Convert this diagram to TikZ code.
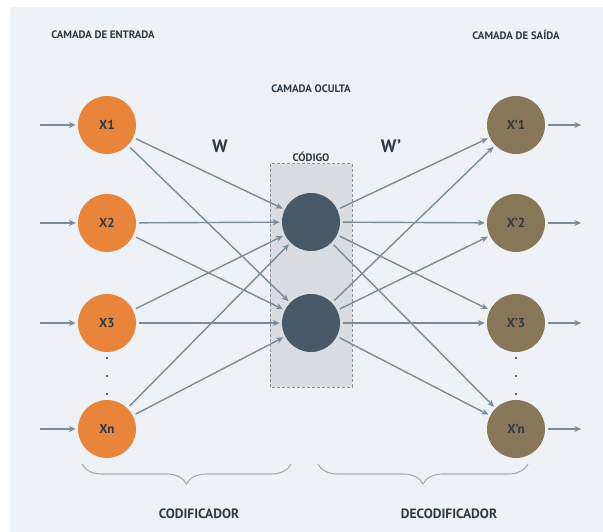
\documentclass[tikz,border=0pt]{standalone}
\usepackage{fontspec}
\setmainfont{PT Sans}
\usetikzlibrary{arrows.meta,decorations.pathreplacing}
\definecolor{panel}{HTML}{EEF2F6}
\definecolor{ink}{HTML}{2E3A46}
\definecolor{edge}{HTML}{7B8B98}
\definecolor{inorange}{HTML}{E8853A}
\definecolor{outbrown}{HTML}{877658}
\definecolor{codedark}{HTML}{4A5968}
\definecolor{codefill}{HTML}{D9DDE1}
\definecolor{boxline}{HTML}{8A949E}
\definecolor{bracecol}{HTML}{A3ADB7}
\tikzset{
  unit/.style={circle, minimum size=58pt, inner sep=0pt, text=ink,
    font=\fontsize{13}{13}\selectfont\bfseries},
  inunit/.style={unit, fill=inorange},
  outunit/.style={unit, fill=outbrown},
  codeunit/.style={unit, fill=codedark},
  link/.style={draw=edge, line width=1.4pt,
    -{Stealth[length=7pt,width=6pt]}, shorten <=3pt, shorten >=2pt},
  caption/.style={text=ink, font=\fontsize{10.8}{10.8}\selectfont\bfseries},
  weight/.style={text=ink, font=\fontsize{18}{18}\selectfont\bfseries},
  part/.style={text=ink, font=\fontsize{13.5}{13.5}\selectfont\bfseries},
  bracket/.style={draw=bracecol, line width=1.1pt,
    decorate, decoration={brace, mirror, amplitude=20pt}},
  dot/.style={circle, fill=ink, inner sep=0pt, minimum size=2.2pt}
}
\begin{document}
\begin{tikzpicture}[x=1pt, y=-1pt]
  % page and panel
  \useasboundingbox (0,0) rectangle (603,532);
  \fill[white] (0,0) rectangle (603,532);
  \fill[panel] (10,7) rectangle (603,532);

  % code region
  \draw[boxline, fill=codefill, line width=1pt, dash pattern=on 3pt off 2pt]
    (270,164) rectangle (352,387);

  % layer captions
  \node[caption] (lin) at (103,35) {CAMADA DE ENTRADA};
  \node[caption] (lout) at (516,35) {CAMADA DE SAÍDA};
  \node[caption] (lhid) at (311,89) {CAMADA OCULTA};
  \node[caption] (lcode) at (311,157) {CÓDIGO};
  \node[weight] (w1) at (220,146) {W};
  \node[weight] (w2) at (391,146) {W’};

  % input units
  \node[inunit] (x1) at (107,125) {X1};
  \node[inunit] (x2) at (107,223) {X2};
  \node[inunit] (x3) at (107,323) {X3};
  \node[inunit] (xn) at (107,429) {Xn};

  % code units
  \node[codeunit] (h1) at (311,222) {};
  \node[codeunit] (h2) at (311,323) {};

  % output units
  \node[outunit] (y1) at (516,125) {X’1};
  \node[outunit] (y2) at (516,223) {X’2};
  \node[outunit] (y3) at (516,323) {X’3};
  \node[outunit] (yn) at (516,429) {X’n};

  % ellipsis dots
  \foreach \yy [count=\k] in {358,376,394} {
    \node[dot] (di\k) at (107,\yy) {};
    \node[dot] (do\k) at (516,\yy) {};
  }

  % incoming and outgoing signals
  \foreach \n in {x1,x2,x3,xn} {
    \coordinate (s\n) at ([xshift=-38pt]\n.west);
    \draw[link, shorten <=0pt] (s\n) -- (\n.west);
  }
  \foreach \n in {y1,y2,y3,yn} {
    \coordinate (e\n) at ([xshift=36pt]\n.east);
    \draw[link, shorten >=0pt] (\n.east) -- (e\n);
  }

  % encoder weights
  \foreach \a in {x1,x2,x3,xn}
    \foreach \b in {h1,h2}
      \draw[link] (\a) -- (\b);

  % decoder weights
  \foreach \a in {h1,h2}
    \foreach \b in {y1,y2,y3,yn}
      \draw[link] (\a) -- (\b);

  % encoder / decoder braces
  \coordinate (bl1) at (82,464);
  \coordinate (bl2) at (291,464);
  \coordinate (br1) at (318,464);
  \coordinate (br2) at (528,464);
  \draw[bracket] (bl1) -- (bl2);
  \draw[bracket] (br1) -- (br2);
  \node[part] (enc) at (199,514) {CODIFICADOR};
  \node[part] (dec) at (449,514) {DECODIFICADOR};
\end{tikzpicture}
\end{document}
